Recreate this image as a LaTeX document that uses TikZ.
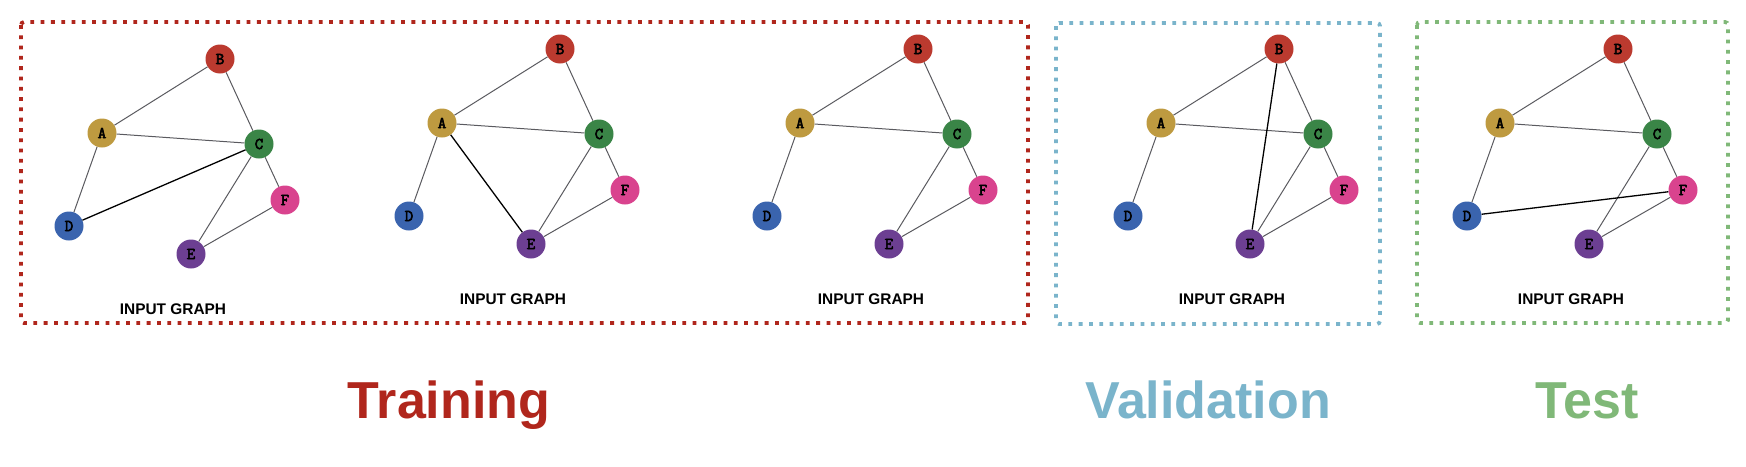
\documentclass[tikz,border=0pt]{standalone}
\usepackage{fontspec}
\setmainfont{Liberation Sans}
\newfontfamily\letterfont{Latin Modern Mono}[BoldFont={Latin Modern Mono},BoldFeatures={FakeBold=3.5}]
\usepackage{tikz}
\usetikzlibrary{positioning,calc}
\definecolor{trainred}{RGB}{176,38,28}
\definecolor{validblue}{RGB}{122,180,203}
\definecolor{testgreen}{RGB}{128,184,120}
\definecolor{nodeA}{RGB}{190,154,64}
\definecolor{nodeB}{RGB}{187,58,47}
\definecolor{nodeC}{RGB}{58,133,71}
\definecolor{nodeD}{RGB}{58,100,174}
\definecolor{nodeE}{RGB}{108,63,146}
\definecolor{nodeF}{RGB}{217,67,142}
\definecolor{edgegray}{RGB}{90,90,95}

\tikzset{
  vertex/.style={circle, inner sep=0pt, minimum size=29pt,
                 font=\fontsize{16.5}{16.5}\selectfont\letterfont\bfseries},
  edge/.style={draw=edgegray, line width=1pt},
  newedge/.style={draw=black, line width=1.3pt},
  splitbox/.style={line width=3.8pt, dash pattern=on 3.8pt off 6.5pt, rounded corners=3pt},
  caption/.style={font=\fontsize{15.4}{16}\selectfont\bfseries},
  splitname/.style={anchor=base, font=\fontsize{52}{52}\selectfont\bfseries}
}

\begin{document}
\begin{tikzpicture}[x=1pt, y=-1pt]
  \useasboundingbox (0,0) rectangle (1746,466);
  % dotted frames
  \draw[splitbox, trainred] (21,22) rectangle (1028,323);
  \draw[splitbox, validblue] (1056,23) rectangle (1380,324);
  \draw[splitbox, testgreen] (1417,22) rectangle (1728,323);
  % the five input graphs
  \foreach \i/\x/\y in {1/102/133, 2/442/123, 3/800/123, 4/1161/123, 5/1500/123} {
    \begin{scope}[shift={(\x,\y)}]
      \node[vertex, fill=nodeA] (A\i) at (0,0) {A};
      \node[vertex, fill=nodeB] (B\i) at (118,-74) {B};
      \node[vertex, fill=nodeC] (C\i) at (157,11) {C};
      \node[vertex, fill=nodeD] (D\i) at (-33,93) {D};
      \node[vertex, fill=nodeE] (E\i) at (89,121) {E};
      \node[vertex, fill=nodeF] (F\i) at (183,67) {F};
      \node[caption] (cap\i) at (71,176) {INPUT GRAPH};
      \path[edge] (A\i) -- (B\i) (B\i) -- (C\i) (A\i) -- (C\i) (A\i) -- (D\i)
                  (C\i) -- (E\i) (C\i) -- (F\i) (E\i) -- (F\i);
    \end{scope}
  }
  % added links
  \path[newedge] (C1) -- (D1);
  \path[newedge] (A2) -- (E2);
  \path[newedge] (B4) -- (E4);
  \path[newedge] (D5) -- (F5);
  % split names
  \node[splitname, text=trainred] (train) at (449,418) {Training};
  \node[splitname, text=validblue] (valid) at (1208,418) {Validation};
  \node[splitname, text=testgreen] (test) at (1587,418) {Test};
\end{tikzpicture}
\end{document}
